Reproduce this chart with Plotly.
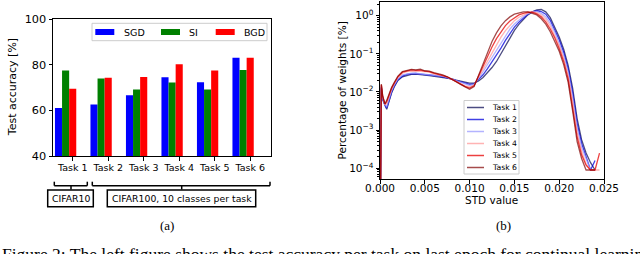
import plotly.graph_objects as go

# ---------------- data: panel (a) ----------------
tasks = ["Task 1", "Task 2", "Task 3", "Task 4", "Task 5", "Task 6"]
task_idx = [0, 1, 2, 3, 4, 5]
sgd = [61.1, 62.6, 66.7, 74.6, 72.4, 83.1]
si = [77.5, 74.0, 69.2, 72.3, 69.2, 77.7]
bgd = [69.5, 74.3, 74.7, 80.3, 77.5, 83.1]
bar_names = ["SGD", "SI", "BGD"]
bar_colors = ["#0000ff", "#008000", "#ff0000"]
acc_ticks = [40, 60, 80, 100]

# ---------------- data: panel (b) ----------------
std_values = [0.00005, 0.00015, 0.0003, 0.00055, 0.00075, 0.0010, 0.0013, 0.0016,
              0.0020, 0.0025, 0.0030, 0.0035, 0.0040, 0.0045, 0.0050, 0.0055,
              0.0060, 0.0065, 0.0070, 0.0075, 0.0080, 0.0085, 0.0090, 0.0095,
              0.0100, 0.0105, 0.0110, 0.0115, 0.0120, 0.0125, 0.0130, 0.0135,
              0.0140, 0.0145, 0.0150, 0.0155, 0.0160, 0.0165, 0.0170, 0.0175,
              0.0180, 0.0185, 0.0190, 0.0195, 0.0200, 0.0205, 0.0210, 0.0215,
              0.0220, 0.0225, 0.0230, 0.0235, 0.0240, 0.0245]

task1 = [1e-5, 0.0126, 0.0063, 0.0042, 0.0035, 0.0056, 0.0095, 0.0138, 0.020, 0.025,
         0.0275, 0.029, 0.0295, 0.028, 0.0275, 0.027, 0.026, 0.025, 0.024, 0.023, 0.022,
         0.0204, 0.019, 0.0178,
         0.017, 0.017, 0.0195, 0.024, 0.0316, 0.0437, 0.063, 0.10, 0.166, 0.27, 0.41,
         0.59, 0.79, 1.05, 1.26, 1.41, 1.45, 1.26, 0.89, 0.52, 0.275, 0.132, 0.050,
         0.0126, 0.0020, 0.00056, 0.00025, 0.00014, 0.00009, None]
task2 = [1e-5, 0.0132, 0.0066, 0.0044, 0.0038, 0.0060, 0.0100, 0.0145, 0.021, 0.026,
         0.029, 0.030, 0.0305, 0.0295, 0.029, 0.028, 0.027, 0.026, 0.025, 0.0235, 0.0218,
         0.0200, 0.0185, 0.0170,
         0.0158, 0.0162, 0.0209, 0.0282, 0.0407, 0.0603, 0.0891, 0.141, 0.224, 0.347,
         0.501, 0.676, 0.871, 1.096, 1.259, 1.349, 1.288, 1.096, 0.759, 0.437, 0.234,
         0.110, 0.0407, 0.00955, 0.00151, 0.000447, 0.00020, 0.00009, 0.00016, None]
task3 = [1e-5, 0.0138, 0.0069, 0.0046, 0.0041, 0.0065, 0.0108, 0.0152, 0.022, 0.028,
         0.030, 0.031, 0.031, 0.030, 0.0295, 0.029, 0.028, 0.027, 0.0255, 0.024, 0.0218,
         0.0196, 0.0175, 0.0158,
         0.0148, 0.0155, 0.0224, 0.0339, 0.0525, 0.0813, 0.126, 0.195, 0.302, 0.447,
         0.603, 0.776, 0.955, 1.122, 1.259, 1.288, 1.148, 0.933, 0.631, 0.372, 0.195,
         0.0912, 0.0331, 0.00724, 0.00115, 0.000355, 0.00018, 0.00009, 0.00009, None]
task4 = [1e-5, 0.0148, 0.0073, 0.0047, 0.0050, 0.0076, 0.0120, 0.0165, 0.024, 0.031,
         0.034, 0.035, 0.0355, 0.0345, 0.034, 0.033, 0.030, 0.0285, 0.027, 0.0245, 0.0215,
         0.0190, 0.0165, 0.0145,
         0.0135, 0.0151, 0.0245, 0.0398, 0.0676, 0.112, 0.178, 0.275, 0.407, 0.562,
         0.741, 0.912, 1.047, 1.175, 1.259, 1.202, 1.047, 0.813, 0.537, 0.309, 0.166,
         0.0759, 0.0269, 0.0055, 0.00087, 0.000282, 0.00013, 0.00009, 0.00009, 0.00009]
task5 = [1e-5, 0.0155, 0.0076, 0.0048, 0.0056, 0.0083, 0.0127, 0.0172, 0.025, 0.033,
         0.036, 0.038, 0.037, 0.0375, 0.035, 0.034, 0.031, 0.029, 0.0275, 0.025, 0.0218,
         0.0188, 0.0160, 0.0138,
         0.0126, 0.0145, 0.0263, 0.0479, 0.0871, 0.151, 0.251, 0.380, 0.550, 0.724,
         0.891, 1.047, 1.148, 1.230, 1.230, 1.122, 0.933, 0.692, 0.447, 0.263, 0.138,
         0.0631, 0.0219, 0.00417, 0.00066, 0.000224, 0.00012, 0.00009, 0.00009, 0.00025]
task6 = [1e-5, 0.016, 0.0079, 0.0049, 0.0060, 0.0089, 0.0132, 0.018, 0.026, 0.034,
         0.037, 0.039, 0.038, 0.0395, 0.036, 0.035, 0.032, 0.030, 0.028, 0.025, 0.022,
         0.0186, 0.0158, 0.0135,
         0.0117, 0.0138, 0.028, 0.056, 0.112, 0.21, 0.355, 0.54, 0.74, 0.93, 1.10,
         1.20, 1.26, 1.26, 1.17, 1.05, 0.83, 0.60, 0.38, 0.22, 0.117, 0.052, 0.0178,
         0.0032, 0.0005, 0.00018, 0.00009, 0.00009, 0.00009, None]
task_series = [task1, task2, task3, task4, task5, task6]
task_colors = ["rgba(0,0,77,0.7)", "rgba(0,0,219,0.75)", "rgba(153,153,255,0.75)",
               "rgba(255,153,153,0.75)", "rgba(230,0,0,0.75)", "rgba(128,0,0,0.7)"]
std_ticks = [0.0, 0.005, 0.010, 0.015, 0.020, 0.025]
pct_ticks = [1e-4, 1e-3, 1e-2, 1e-1, 1e0]
pct_ticktext = ["10<sup>−4</sup>", "10<sup>−3</sup>", "10<sup>−2</sup>",
                "10<sup>−1</sup>", "10<sup>0</sup>"]

W, H = 640, 254
FONT = "DejaVu Sans"
SERIF = "Liberation Serif"


def px(x):
    return x / W


def py(y):
    return 1 - y / H


fig = go.Figure()

# bars (panel a)
for name, vals, col, off in zip(bar_names, [sgd, si, bgd], bar_colors, [-0.5, -0.3, -0.1]):
    fig.add_trace(go.Bar(x=task_idx, y=vals, name=name, width=0.2, offset=off,
                         marker=dict(color=col, line=dict(width=0)),
                         xaxis="x", yaxis="y", showlegend=False))

# curves (panel b)
for i, (ser, col) in enumerate(zip(task_series, task_colors)):
    fig.add_trace(go.Scatter(x=std_values, y=ser, mode="lines", name=tasks[i],
                             line=dict(color=col, width=1.3), connectgaps=False,
                             xaxis="x2", yaxis="y2", showlegend=False))

axis_common = dict(showline=True, mirror=True, linecolor="black", linewidth=1,
                   ticks="outside", ticklen=3.5, tickwidth=1, tickcolor="black",
                   showgrid=False, zeroline=False, automargin=False)

fig.update_layout(
    width=W, height=H, margin=dict(l=0, r=0, t=0, b=0, pad=0, autoexpand=False),
    paper_bgcolor="white", plot_bgcolor="white", showlegend=False,
    barmode="overlay", font=dict(family=FONT, color="black"),
    xaxis=dict(domain=[px(53), px(271)], range=[-0.555, 5.586], tickmode="array",
               tickvals=task_idx, ticktext=tasks, tickfont=dict(size=9.5),
               ticklabelstandoff=-1, anchor="y", **axis_common),
    yaxis=dict(domain=[py(156), py(19.3)], range=[40, 100], tickmode="array",
               tickvals=acc_ticks, tickfont=dict(size=11.3), anchor="x", **axis_common),
    xaxis2=dict(domain=[px(380), px(604)], range=[0, 0.025], tickmode="array",
                tickvals=std_ticks, ticktext=[f"{v:.3f}" for v in std_ticks],
                tickfont=dict(size=10.5), ticklabelstandoff=-4, anchor="y2", **axis_common),
    yaxis2=dict(domain=[py(179.3), py(1.7)], type="log", range=[-4.29, 0.367],
                tickmode="array", tickvals=pct_ticks, ticktext=pct_ticktext,
                tickfont=dict(size=10.5), anchor="x2",
                minor=dict(ticks="outside", ticklen=2, tickcolor="black",
                           tickvals=[k * 10.0 ** e for e in range(-5, 1) for k in range(2, 10)]),
                **axis_common),
)

shapes = []
ann = []

# axis titles
ann.append(dict(x=px(12.7), y=py(87.5), text="Test accuracy [%]", textangle=-90,
                font=dict(size=11)))
ann.append(dict(x=px(341), y=py(90.5), text="Percentage of weights [%]", textangle=-90,
                font=dict(size=10.5)))
ann.append(dict(x=px(491.7), y=py(200), text="STD value", font=dict(size=10.5)))

# brackets under panel (a)
def bracket(x0, x1, xm):
    return [
        dict(type="line", x0=px(x0), x1=px(x1), y0=py(185.7), y1=py(185.7)),
        dict(type="line", x0=px(x0), x1=px(x0), y0=py(181.7), y1=py(185.7)),
        dict(type="line", x0=px(x1), x1=px(x1), y0=py(181.7), y1=py(185.7)),
        dict(type="line", x0=px(xm), x1=px(xm), y0=py(185.7), y1=py(189.5)),
    ]

for s in bracket(54.3, 87.3, 71) + bracket(92.3, 270, 181.7):
    s.update(xref="paper", yref="paper", line=dict(color="black", width=1.5))
    shapes.append(s)

for (x0, x1, label) in [(47.7, 93.3, "CIFAR10"), (107.3, 255.7, "CIFAR100, 10 classes per task")]:
    shapes.append(dict(type="rect", xref="paper", yref="paper", x0=px(x0), x1=px(x1),
                       y0=py(206.7), y1=py(190), line=dict(color="black", width=1.5)))
    ann.append(dict(x=px((x0 + x1) / 2), y=py(198.4), text=label, font=dict(size=9.3)))

# legend panel (a)
shapes.append(dict(type="rect", xref="paper", yref="paper", x0=px(92), x1=px(267),
                   y0=py(40.7), y1=py(23.3), line=dict(color="#cccccc", width=1),
                   fillcolor="rgba(255,255,255,0.8)"))
for name, col, sx, tx in zip(bar_names, bar_colors, [95.3, 161, 215.7], [121.7, 186.7, 241.7]):
    shapes.append(dict(type="rect", xref="paper", yref="paper", x0=px(sx), x1=px(sx + 19),
                       y0=py(35), y1=py(29), line=dict(width=0), fillcolor=col))
    ann.append(dict(x=px(tx), y=py(32), text=name, xanchor="left", font=dict(size=9.5)))

# legend panel (b)
shapes.append(dict(type="rect", xref="paper", yref="paper", x0=px(464), x1=px(519),
                   y0=py(174), y1=py(100.5), line=dict(color="#cccccc", width=1),
                   fillcolor="rgba(255,255,255,0.8)"))
for i, (name, col) in enumerate(zip(tasks, task_colors)):
    yy = 107.5 + 12 * i
    shapes.append(dict(type="line", xref="paper", yref="paper", x0=px(467), x1=px(484),
                       y0=py(yy), y1=py(yy), line=dict(color=col, width=1.5)))
    ann.append(dict(x=px(490), y=py(yy), text=name, xanchor="left", font=dict(size=7.7)))

# sub-captions and caption
ann.append(dict(x=px(166.7), y=py(225), text="(a)", font=dict(family=SERIF, size=13)))
ann.append(dict(x=px(503), y=py(225), text="(b)", font=dict(family=SERIF, size=13)))
ann.append(dict(x=px(0), y=py(254), xanchor="left",
                text="Figure 2: The left figure shows the test accuracy per task on last epoch for continual learning",
                font=dict(family=SERIF, size=17.5)))

for a in ann:
    a.setdefault("xref", "paper")
    a.setdefault("yref", "paper")
    a.setdefault("showarrow", False)
    a.setdefault("xanchor", "center")
    a.setdefault("yanchor", "middle")

fig.update_layout(shapes=shapes, annotations=ann)
fig.write_html("out.html", config={"displayModeBar": False, "staticPlot": True},
               post_script="document.body.style.margin='0';document.body.style.padding='0';"
                           "document.documentElement.style.overflow='hidden';")
